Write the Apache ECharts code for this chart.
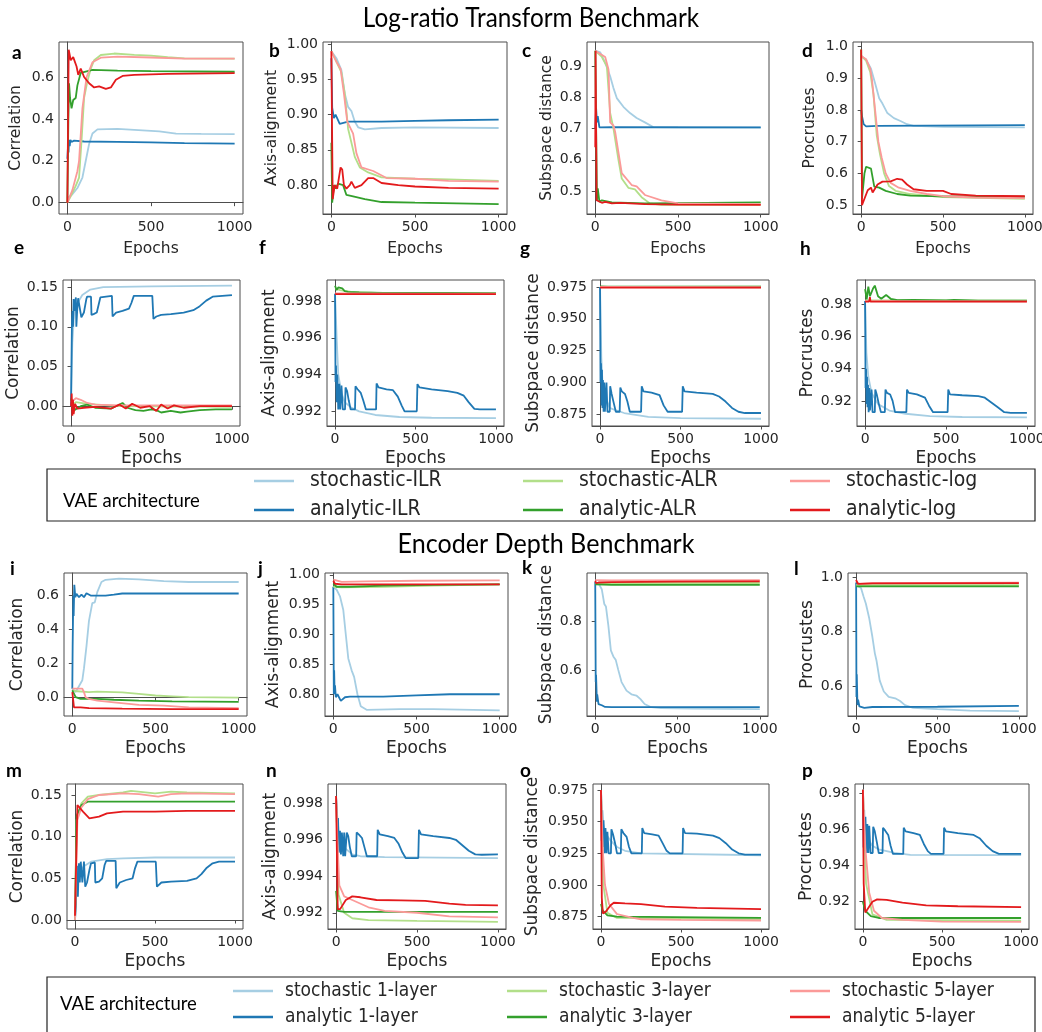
<!DOCTYPE html>
<html>
<head>
<meta charset="utf-8">
<script src="https://cdn.jsdelivr.net/npm/echarts@6/dist/echarts.min.js"></script>
<style>
  html, body { margin: 0; padding: 0; background: #fff; }
  #chart { width: 1042px; height: 1032px; }
</style>
</head>
<body>
<div id="chart"></div>
<script>
// ---------- shared axis ticks ----------
const xTicks = [0, 500, 1000];
const corrTicks = [0, 0.2, 0.4, 0.6];
const axisTicksWide = [0.80, 0.85, 0.90, 0.95, 1.00];
const subspTicksLR = [0.5, 0.6, 0.7, 0.8, 0.9];
const procTicksLR = [0.5, 0.6, 0.7, 0.8, 0.9, 1.0];
const corrTicksSmall = [0, 0.05, 0.10, 0.15];
const axisTicksFine = [0.992, 0.994, 0.996, 0.998];
const subspTicksFine = [0.875, 0.900, 0.925, 0.950, 0.975];
const procTicksFine = [0.92, 0.94, 0.96, 0.98];
const subspTicksDepth = [0.6, 0.8];
const procTicksDepth = [0.6, 0.8, 1.0];

const lrNames = ['stochastic-ILR', 'analytic-ILR', 'stochastic-ALR', 'analytic-ALR', 'stochastic-log', 'analytic-log'];
const depthNames = ['stochastic 1-layer', 'analytic 1-layer', 'stochastic 3-layer', 'analytic 3-layer', 'stochastic 5-layer', 'analytic 5-layer'];
const palette = ['#a6cee3', '#1f78b4', '#b2df8a', '#33a02c', '#fb9a99', '#e31a1c'];

// ---------- Log-ratio transform benchmark: [epoch, value] ----------
const a_sILR = [[0,0.02],[30,0.04],[60,0.07],[90,0.12],[110,0.2],[130,0.28],[150,0.33],[180,0.35],[300,0.352],[450,0.345],[550,0.34],[650,0.33],[800,0.328],[1000,0.327]];
const a_aILR = [[0,0.21],[4,0.27],[7,0.24],[10,0.3],[14,0.27],[18,0.3],[25,0.29],[40,0.296],[100,0.292],[300,0.29],[500,0.288],[700,0.284],[1000,0.282]];
const a_sALR = [[0,0.0],[20,0.03],[50,0.08],[70,0.12],[85,0.3],[100,0.5],[120,0.58],[140,0.64],[160,0.68],[200,0.705],[280,0.712],[400,0.706],[500,0.702],[600,0.695],[700,0.689],[1000,0.688]];
const a_aALR = [[0,0.0],[6,0.4],[10,0.57],[16,0.5],[25,0.45],[35,0.49],[50,0.5],[60,0.56],[80,0.62],[150,0.634],[300,0.63],[500,0.628],[1000,0.625]];
const a_sLog = [[0,0.0],[30,0.06],[60,0.15],[70,0.2],[90,0.45],[115,0.6],[150,0.67],[200,0.692],[300,0.697],[500,0.693],[700,0.688],[1000,0.688]];
const a_aLog = [[0,0.0],[8,0.73],[20,0.68],[35,0.695],[55,0.65],[65,0.61],[80,0.64],[100,0.6],[130,0.57],[160,0.55],[190,0.555],[230,0.543],[260,0.55],[290,0.587],[330,0.605],[400,0.61],[600,0.615],[1000,0.618]];

const b_sILR = [[0,0.99],[30,0.98],[60,0.963],[80,0.93],[100,0.911],[120,0.905],[140,0.89],[160,0.882],[200,0.879],[300,0.881],[500,0.882],[1000,0.881]];
const b_aILR = [[0,0.98],[5,0.91],[15,0.895],[25,0.9],[50,0.887],[100,0.89],[300,0.89],[500,0.891],[700,0.892],[1000,0.893]];
const b_sALR = [[0,0.99],[30,0.975],[60,0.96],[80,0.93],[100,0.88],[120,0.86],[140,0.84],[170,0.825],[220,0.818],[300,0.811],[500,0.809],[700,0.808],[1000,0.806]];
const b_aALR = [[0,0.86],[5,0.775],[15,0.8],[25,0.795],[40,0.802],[70,0.8],[90,0.786],[130,0.784],[200,0.78],[300,0.776],[500,0.775],[1000,0.773]];
const b_sLog = [[0,0.99],[30,0.975],[55,0.965],[75,0.93],[95,0.89],[130,0.873],[150,0.845],[180,0.825],[250,0.82],[330,0.81],[500,0.809],[700,0.806],[1000,0.805]];
const b_aLog = [[0,0.99],[8,0.78],[20,0.8],[35,0.795],[55,0.825],[65,0.822],[75,0.8],[90,0.795],[110,0.8],[120,0.805],[140,0.796],[180,0.8],[220,0.81],[250,0.81],[300,0.803],[400,0.8],[500,0.798],[700,0.796],[1000,0.795]];

const c_sILR = [[0,0.95],[30,0.945],[60,0.911],[90,0.868],[110,0.83],[130,0.798],[170,0.77],[210,0.75],[250,0.734],[300,0.72],[350,0.705],[500,0.704],[1000,0.703]];
const c_aILR = [[0,0.7],[5,0.766],[10,0.72],[15,0.74],[25,0.704],[100,0.705],[1000,0.704]];
const c_sALR = [[0,0.95],[40,0.93],[70,0.9],[90,0.75],[110,0.7],[140,0.6],[160,0.54],[200,0.51],[240,0.505],[280,0.48],[330,0.46],[400,0.455],[1000,0.456]];
const c_aALR = [[0,0.95],[10,0.47],[15,0.508],[25,0.465],[40,0.47],[100,0.463],[300,0.46],[500,0.461],[1000,0.463]];
const c_sLog = [[0,0.95],[60,0.93],[80,0.89],[90,0.72],[110,0.71],[120,0.69],[160,0.557],[220,0.519],[250,0.515],[300,0.487],[400,0.47],[500,0.46],[1000,0.458]];
const c_aLog = [[0,0.64],[2,0.95],[8,0.47],[20,0.465],[40,0.462],[60,0.465],[100,0.46],[150,0.462],[300,0.458],[500,0.456],[1000,0.455]];

const d_sILR = [[0,0.97],[30,0.958],[60,0.93],[85,0.884],[110,0.837],[130,0.82],[160,0.79],[200,0.774],[240,0.765],[280,0.755],[320,0.75],[500,0.747],[1000,0.745]];
const d_aILR = [[0,0.8],[5,0.78],[15,0.755],[30,0.748],[100,0.75],[1000,0.752]];
const d_sALR = [[0,0.97],[30,0.955],[55,0.92],[75,0.85],[95,0.72],[115,0.66],[140,0.6],[170,0.56],[210,0.545],[300,0.535],[400,0.53],[500,0.525],[1000,0.52]];
const d_aALR = [[0,0.99],[5,0.52],[20,0.6],[30,0.621],[60,0.615],[80,0.558],[110,0.555],[150,0.545],[220,0.535],[300,0.53],[500,0.528],[1000,0.527]];
const d_sLog = [[0,0.97],[30,0.96],[55,0.93],[65,0.9],[85,0.8],[105,0.7],[125,0.65],[150,0.6],[180,0.57],[230,0.555],[300,0.545],[400,0.535],[500,0.528],[700,0.524],[1000,0.522]];
const d_aLog = [[0,0.99],[5,0.5],[20,0.52],[40,0.547],[60,0.555],[70,0.54],[100,0.565],[130,0.574],[180,0.575],[220,0.583],[250,0.58],[280,0.565],[320,0.55],[400,0.545],[500,0.545],[550,0.535],[700,0.53],[1000,0.528]];

const e_sILR = [[0,0.01],[8,0.08],[20,0.12],[40,0.13],[70,0.14],[120,0.147],[200,0.15],[500,0.151],[1000,0.152]];
const e_aILR = [[0,0.0],[3,0.06],[6,0.11],[9,0.12],[12,0.1],[16,0.135],[20,0.12],[25,0.13],[30,0.137],[33,0.1],[38,0.12],[44,0.136],[55,0.137],[64,0.112],[70,0.113],[80,0.118],[95,0.135],[100,0.138],[124,0.138],[127,0.115],[140,0.116],[160,0.118],[172,0.12],[182,0.137],[190,0.139],[254,0.139],[258,0.113],[280,0.118],[320,0.12],[360,0.123],[375,0.13],[390,0.139],[505,0.139],[512,0.11],[530,0.113],[560,0.115],[620,0.116],[700,0.118],[760,0.121],[800,0.126],[840,0.133],[880,0.138],[1000,0.14]];
const e_sALR = [[0,0.0],[30,0.005],[100,0.003],[300,0.0],[1000,-0.001]];
const e_aALR = [[0,0.01],[20,-0.005],[60,0.0],[100,0.002],[150,-0.002],[250,-0.003],[320,0.004],[350,-0.002],[400,-0.005],[450,-0.006],[500,-0.004],[530,-0.005],[560,-0.008],[620,-0.006],[680,-0.008],[720,-0.007],[800,-0.005],[900,-0.004],[1000,-0.004]];
const e_sLog = [[0,0.005],[30,0.01],[60,0.008],[100,0.004],[150,0.002],[300,0.001],[1000,0.001]];
const e_aLog = [[0,0.0],[4,0.016],[8,-0.012],[12,0.008],[16,-0.01],[25,0.003],[40,-0.003],[80,-0.002],[150,-0.001],[250,-0.003],[300,0.002],[340,-0.003],[380,0.003],[430,-0.002],[490,0.0],[530,-0.006],[560,0.002],[600,-0.003],[640,0.001],[700,-0.002],[800,0.0],[1000,0.0]];

const f_sILR = [[0,0.9984],[10,0.996],[20,0.994],[40,0.993],[60,0.9925],[100,0.9922],[150,0.992],[250,0.9918],[400,0.99169],[600,0.99165],[1000,0.99163]];
const f_aILR = [[0,0.9984],[3,0.9936],[6,0.9945],[10,0.9925],[14,0.994],[20,0.9921],[26,0.9935],[32,0.9921],[40,0.9934],[48,0.9921],[62,0.9921],[65,0.9933],[75,0.9931],[85,0.9926],[97,0.9921],[124,0.9921],[127,0.99336],[140,0.9932],[160,0.993],[175,0.9926],[192,0.9921],[255,0.9921],[258,0.99352],[270,0.9933],[320,0.9932],[360,0.99315],[390,0.9928],[415,0.9923],[432,0.992],[508,0.992],[512,0.99348],[525,0.9933],[600,0.9932],[700,0.9931],[760,0.993],[800,0.99285],[830,0.9925],[866,0.99213],[900,0.9921],[1000,0.9921]];
const f_sALR = [[0,0.9987],[30,0.9986],[100,0.9985],[300,0.99843],[1000,0.9984]];
const f_aALR = [[0,0.99884],[10,0.9986],[20,0.99875],[45,0.99869],[60,0.99855],[80,0.9985],[150,0.99848],[300,0.99845],[700,0.99845],[1000,0.99843]];
const f_sLog = [[0,0.99842],[500,0.99841],[1000,0.9984]];
const f_aLog = [[0,0.99838],[500,0.99838],[1000,0.99838]];

const g_sILR = [[0,0.975],[8,0.92],[15,0.9],[30,0.89],[60,0.88],[100,0.878],[150,0.876],[250,0.874],[300,0.873],[500,0.872],[1000,0.8715]];
const g_aILR = [[0,0.975],[3,0.9],[6,0.915],[9,0.882],[12,0.91],[15,0.88],[18,0.902],[22,0.877],[26,0.9],[30,0.877],[40,0.9],[46,0.877],[60,0.877],[63,0.897],[72,0.891],[85,0.884],[98,0.877],[122,0.877],[126,0.896],[135,0.893],[155,0.891],[170,0.885],[185,0.877],[255,0.877],[259,0.897],[270,0.893],[320,0.892],[370,0.89],[395,0.882],[420,0.877],[510,0.877],[514,0.897],[525,0.893],[600,0.892],[700,0.891],[740,0.889],[780,0.885],[820,0.88],[860,0.877],[900,0.876],[1000,0.876]];
const g_sALR = [[0,0.975],[1000,0.9752]];
const g_aALR = [[0,0.9755],[50,0.9752],[1000,0.9752]];
const g_sLog = [[0,0.975],[1000,0.9748]];
const g_aLog = [[0,0.9745],[1000,0.9745]];

const h_sILR = [[0,0.982],[8,0.95],[20,0.935],[40,0.925],[80,0.918],[150,0.914],[250,0.912],[400,0.9105],[600,0.91],[1000,0.9098]];
const h_aILR = [[0,0.982],[3,0.928],[6,0.94],[9,0.918],[12,0.935],[15,0.916],[18,0.93],[22,0.913],[26,0.928],[30,0.914],[40,0.927],[46,0.913],[60,0.913],[63,0.927],[72,0.924],[85,0.918],[98,0.913],[122,0.913],[126,0.927],[135,0.925],[155,0.924],[170,0.92],[185,0.913],[255,0.913],[259,0.927],[270,0.925],[320,0.924],[370,0.922],[395,0.917],[420,0.913],[510,0.913],[514,0.927],[525,0.924],[600,0.9235],[700,0.923],[740,0.922],[780,0.919],[820,0.916],[860,0.913],[900,0.9125],[1000,0.9125]];
const h_sALR = [[0,0.9825],[1000,0.9822]];
const h_aALR = [[0,0.9895],[10,0.983],[20,0.991],[30,0.985],[50,0.99],[60,0.9916],[80,0.985],[100,0.9835],[130,0.9858],[160,0.9833],[200,0.9826],[300,0.9828],[500,0.9825],[550,0.9827],[700,0.9823],[1000,0.9822]];
const h_sLog = [[0,0.982],[1000,0.9818]];
const h_aLog = [[0,0.9817],[25,0.9817],[30,0.9845],[33,0.9817],[1000,0.9817]];

// ---------- Encoder depth benchmark ----------
const i_s1 = [[0,0.05],[20,0.03],[60,0.1],[70,0.17],[85,0.3],[100,0.45],[120,0.555],[135,0.56],[150,0.62],[175,0.68],[200,0.693],[280,0.7],[400,0.695],[550,0.685],[700,0.68],[1000,0.68]];
const i_a1 = [[0,0.05],[2,0.3],[6,0.6],[8,0.48],[12,0.663],[18,0.59],[25,0.61],[40,0.59],[55,0.605],[70,0.59],[85,0.614],[110,0.6],[200,0.6],[250,0.605],[300,0.612],[1000,0.612]];
const i_s3 = [[0,0.04],[30,0.035],[100,0.03],[150,0.033],[300,0.028],[400,0.02],[500,0.01],[600,0.005],[700,0.0],[1000,-0.003]];
const i_a3 = [[0,0.04],[20,0.0],[50,-0.01],[150,-0.01],[250,-0.015],[400,-0.02],[600,-0.025],[1000,-0.028]];
const i_s5 = [[0,0.05],[20,0.05],[60,0.05],[70,0.03],[80,0.0],[100,-0.01],[150,-0.02],[250,-0.03],[400,-0.045],[550,-0.05],[700,-0.06],[1000,-0.065]];
const i_a5 = [[0,0.03],[10,-0.06],[20,-0.05],[50,-0.06],[100,-0.065],[300,-0.068],[600,-0.07],[1000,-0.07]];

const j_s1 = [[0,0.98],[20,0.975],[40,0.964],[60,0.941],[75,0.9],[90,0.86],[110,0.84],[125,0.829],[145,0.8],[165,0.78],[200,0.774],[400,0.775],[600,0.775],[1000,0.773]];
const j_a1 = [[0,0.98],[3,0.8],[5,0.84],[8,0.8],[10,0.815],[15,0.795],[25,0.8],[45,0.789],[70,0.795],[100,0.796],[300,0.796],[500,0.798],[700,0.8],[1000,0.8]];
const j_s3 = [[0,0.98],[50,0.979],[300,0.98],[600,0.982],[1000,0.984]];
const j_a3 = [[0,0.985],[20,0.98],[100,0.98],[300,0.982],[600,0.983],[1000,0.984]];
const j_s5 = [[0,0.992],[50,0.988],[200,0.989],[500,0.99],[1000,0.9905]];
const j_a5 = [[0,0.99],[10,0.985],[50,0.984],[1000,0.984]];

const k_s1 = [[0,0.96],[20,0.955],[40,0.93],[55,0.87],[65,0.86],[80,0.78],[95,0.68],[110,0.655],[125,0.64],[140,0.6],[160,0.55],[190,0.515],[220,0.5],[250,0.495],[275,0.48],[300,0.46],[340,0.447],[400,0.443],[600,0.441],[1000,0.439]];
const k_a1 = [[0,0.96],[3,0.55],[5,0.58],[10,0.47],[12,0.5],[20,0.46],[40,0.455],[60,0.448],[100,0.447],[500,0.447],[1000,0.447]];
const k_s3 = [[0,0.955],[100,0.955],[1000,0.956]];
const k_a3 = [[0,0.95],[100,0.948],[1000,0.948]];
const k_s5 = [[0,0.968],[100,0.967],[1000,0.968]];
const k_a5 = [[0,0.965],[5,0.955],[20,0.958],[100,0.96],[500,0.962],[1000,0.963]];

const l_s1 = [[0,0.97],[30,0.96],[45,0.93],[60,0.902],[80,0.85],[100,0.78],[115,0.72],[125,0.694],[145,0.62],[170,0.58],[200,0.56],[240,0.555],[270,0.545],[300,0.53],[350,0.52],[500,0.515],[700,0.51],[1000,0.508]];
const l_a1 = [[0,0.98],[2,0.56],[4,0.643],[8,0.53],[12,0.55],[20,0.525],[50,0.52],[100,0.523],[500,0.524],[1000,0.527]];
const l_s3 = [[0,0.97],[1000,0.97]];
const l_a3 = [[0,0.966],[1000,0.966]];
const l_s5 = [[0,0.985],[20,0.975],[100,0.978],[1000,0.98]];
const l_a5 = [[0,0.99],[10,0.975],[20,0.98],[100,0.977],[1000,0.978]];

const m_s1 = [[0,0.0],[10,0.04],[30,0.06],[60,0.065],[100,0.07],[200,0.073],[300,0.074],[500,0.075],[1000,0.075]];
const m_a1 = [[0,0.0],[6,0.02],[12,0.065],[18,0.028],[24,0.068],[30,0.045],[36,0.07],[46,0.045],[56,0.07],[64,0.04],[75,0.045],[90,0.06],[100,0.068],[124,0.069],[127,0.045],[150,0.046],[170,0.05],[185,0.066],[195,0.071],[254,0.071],[258,0.038],[280,0.045],[320,0.048],[360,0.05],[375,0.062],[390,0.07],[505,0.07],[512,0.04],[540,0.045],[600,0.046],[700,0.047],[760,0.05],[790,0.055],[820,0.062],[860,0.068],[900,0.07],[1000,0.07]];
const m_s3 = [[0,0.0],[10,0.12],[40,0.14],[80,0.148],[150,0.15],[300,0.153],[350,0.155],[500,0.152],[600,0.154],[700,0.153],[1000,0.152]];
const m_a3 = [[0,0.0],[10,0.125],[40,0.138],[80,0.142],[1000,0.142]];
const m_s5 = [[0,0.0],[15,0.12],[40,0.135],[80,0.145],[150,0.15],[300,0.152],[400,0.151],[520,0.148],[600,0.151],[700,0.152],[1000,0.151]];
const m_a5 = [[0,0.005],[15,0.138],[50,0.13],[90,0.122],[150,0.124],[200,0.128],[300,0.13],[500,0.13],[700,0.131],[1000,0.131]];

const n_s1 = [[0,0.9984],[5,0.9975],[15,0.9965],[30,0.996],[60,0.9955],[100,0.9952],[150,0.9951],[300,0.99505],[1000,0.995]];
const n_a1 = [[0,0.9983],[4,0.9974],[8,0.9955],[12,0.9972],[17,0.9953],[24,0.9965],[30,0.9952],[36,0.9964],[44,0.9951],[50,0.9964],[56,0.9951],[64,0.9951],[66,0.9964],[75,0.9962],[85,0.9956],[97,0.9951],[124,0.9951],[127,0.9964],[140,0.9963],[160,0.9961],[175,0.9956],[190,0.9951],[254,0.9951],[257,0.99655],[270,0.9963],[320,0.9962],[360,0.9961],[385,0.9958],[410,0.9953],[430,0.995],[508,0.995],[512,0.99655],[525,0.9963],[600,0.9962],[700,0.9961],[740,0.996],[780,0.9957],[820,0.9954],[860,0.9952],[900,0.99518],[1000,0.9952]];
const n_s3 = [[0,0.9984],[15,0.993],[50,0.992],[100,0.9917],[200,0.9916],[500,0.99155],[1000,0.9915]];
const n_a3 = [[0,0.9932],[10,0.9921],[50,0.99205],[1000,0.99205]];
const n_s5 = [[0,0.9984],[8,0.996],[20,0.9935],[50,0.9929],[100,0.9927],[200,0.9923],[300,0.9921],[500,0.992],[700,0.9918],[1000,0.99175]];
const n_a5 = [[0,0.9984],[10,0.9922],[25,0.9922],[60,0.9927],[100,0.9929],[150,0.99285],[250,0.9927],[400,0.99268],[550,0.99265],[700,0.9925],[800,0.99243],[1000,0.9924]];

const o_s1 = [[0,0.975],[10,0.95],[30,0.94],[60,0.935],[100,0.93],[150,0.927],[250,0.925],[1000,0.9235]];
const o_a1 = [[0,0.975],[4,0.935],[8,0.959],[12,0.93],[16,0.951],[22,0.925],[28,0.945],[34,0.925],[40,0.942],[48,0.925],[62,0.925],[65,0.944],[75,0.94],[88,0.933],[100,0.925],[124,0.925],[127,0.944],[140,0.941],[160,0.938],[175,0.93],[190,0.925],[255,0.925],[258,0.945],[270,0.941],[320,0.94],[360,0.939],[385,0.933],[410,0.927],[430,0.925],[510,0.925],[513,0.945],[525,0.941],[600,0.9405],[700,0.939],[740,0.937],[780,0.933],[820,0.928],[860,0.925],[900,0.924],[1000,0.924]];
const o_s3 = [[0,0.975],[15,0.9],[40,0.878],[100,0.874],[1000,0.873]];
const o_a3 = [[0,0.885],[10,0.88],[40,0.876],[100,0.875],[1000,0.874]];
const o_s5 = [[0,0.975],[10,0.93],[25,0.9],[50,0.885],[100,0.877],[200,0.874],[250,0.873],[500,0.8725],[1000,0.872]];
const o_a5 = [[0,0.975],[5,0.89],[12,0.8776],[30,0.879],[60,0.884],[80,0.886],[150,0.8855],[250,0.885],[400,0.883],[600,0.882],[1000,0.881]];

const p_s1 = [[0,0.982],[10,0.96],[30,0.955],[60,0.951],[100,0.949],[200,0.947],[300,0.946],[1000,0.9458]];
const p_a1 = [[0,0.982],[4,0.95],[8,0.971],[12,0.948],[16,0.967],[22,0.947],[28,0.963],[34,0.947],[40,0.962],[48,0.947],[62,0.947],[65,0.9615],[75,0.959],[88,0.953],[100,0.947],[124,0.947],[127,0.961],[140,0.9595],[160,0.957],[175,0.951],[190,0.9465],[255,0.9465],[258,0.961],[270,0.959],[320,0.958],[360,0.957],[385,0.952],[410,0.948],[430,0.9465],[510,0.9465],[513,0.961],[525,0.959],[600,0.958],[700,0.957],[740,0.955],[780,0.951],[820,0.948],[860,0.9465],[1000,0.9465]];
const p_s3 = [[0,0.982],[20,0.93],[60,0.913],[150,0.91],[1000,0.9095]];
const p_a3 = [[0,0.92],[15,0.915],[50,0.912],[100,0.911],[1000,0.911]];
const p_s5 = [[0,0.982],[15,0.95],[40,0.925],[70,0.915],[120,0.911],[250,0.91],[500,0.909],[1000,0.9088]];
const p_a5 = [[0,0.982],[5,0.93],[15,0.914],[30,0.916],[60,0.92],[90,0.9213],[150,0.921],[250,0.9195],[400,0.918],[600,0.9175],[1000,0.917]];

// ---------- panel definitions (metric, y-range, ticks, lines) ----------
const panels = [
  { id: 'a', metric: 'Correlation',       y: [-0.054, 0.767],   ticks: corrTicks,       dec: 1, names: lrNames, lines: [a_sILR, a_aILR, a_sALR, a_aALR, a_sLog, a_aLog] },
  { id: 'b', metric: 'Axis-alignment',    y: [0.759, 1.003],    ticks: axisTicksWide,   dec: 2, names: lrNames, lines: [b_sILR, b_aILR, b_sALR, b_aALR, b_sLog, b_aLog] },
  { id: 'c', metric: 'Subspace distance', y: [0.426, 0.978],    ticks: subspTicksLR,    dec: 1, names: lrNames, lines: [c_sILR, c_aILR, c_sALR, c_aALR, c_sLog, c_aLog] },
  { id: 'd', metric: 'Procrustes',        y: [0.472, 1.014],    ticks: procTicksLR,     dec: 1, names: lrNames, lines: [d_sILR, d_aILR, d_sALR, d_aALR, d_sLog, d_aLog] },
  { id: 'e', metric: 'Correlation',       y: [-0.025, 0.159],   ticks: corrTicksSmall,  dec: 2, names: lrNames, lines: [e_sILR, e_aILR, e_sALR, e_aALR, e_sLog, e_aLog] },
  { id: 'f', metric: 'Axis-alignment',    y: [0.9912, 0.99915], ticks: axisTicksFine,   dec: 3, names: lrNames, lines: [f_sILR, f_aILR, f_sALR, f_aALR, f_sLog, f_aLog] },
  { id: 'g', metric: 'Subspace distance', y: [0.8658, 0.9805],  ticks: subspTicksFine,  dec: 3, names: lrNames, lines: [g_sILR, g_aILR, g_sALR, g_aALR, g_sLog, g_aLog] },
  { id: 'h', metric: 'Procrustes',        y: [0.9044, 0.9951],  ticks: procTicksFine,   dec: 2, names: lrNames, lines: [h_sILR, h_aILR, h_sALR, h_aALR, h_sLog, h_aLog] },
  { id: 'i', metric: 'Correlation',       y: [-0.111, 0.733],   ticks: corrTicks,       dec: 1, names: depthNames, lines: [i_s1, i_a1, i_s3, i_a3, i_s5, i_a5] },
  { id: 'j', metric: 'Axis-alignment',    y: [0.7636, 1.003],   ticks: axisTicksWide,   dec: 2, names: depthNames, lines: [j_s1, j_a1, j_s3, j_a3, j_s5, j_a5] },
  { id: 'k', metric: 'Subspace distance', y: [0.411, 0.997],    ticks: subspTicksDepth, dec: 1, names: depthNames, lines: [k_s1, k_a1, k_s3, k_a3, k_s5, k_a5] },
  { id: 'l', metric: 'Procrustes',        y: [0.49, 1.015],     ticks: procTicksDepth,  dec: 1, names: depthNames, lines: [l_s1, l_a1, l_s3, l_a3, l_s5, l_a5] },
  { id: 'm', metric: 'Correlation',       y: [-0.0108, 0.1632], ticks: corrTicksSmall,  dec: 2, names: depthNames, lines: [m_s1, m_a1, m_s3, m_a3, m_s5, m_a5] },
  { id: 'n', metric: 'Axis-alignment',    y: [0.99111, 0.99906],ticks: axisTicksFine,   dec: 3, names: depthNames, lines: [n_s1, n_a1, n_s3, n_a3, n_s5, n_a5] },
  { id: 'o', metric: 'Subspace distance', y: [0.8653, 0.9797],  ticks: subspTicksFine,  dec: 3, names: depthNames, lines: [o_s1, o_a1, o_s3, o_a3, o_s5, o_a5] },
  { id: 'p', metric: 'Procrustes',        y: [0.9049, 0.9852],  ticks: procTicksFine,   dec: 2, names: depthNames, lines: [p_s1, p_a1, p_s3, p_a3, p_s5, p_a5] }
];

// ---------- layout: plot boxes, label gaps, panel letter spots ----------
const boxes = {
  a: [59, 42, 184, 172],  b: [323, 42, 184, 172], c: [587, 42, 182, 172], d: [853, 42, 180, 172],
  e: [63, 280, 177, 146], f: [327, 280, 177, 146], g: [592, 280, 177, 146], h: [857, 280, 178, 146],
  i: [64, 573, 183, 143], j: [325, 573, 183, 143], k: [587, 573, 181, 143], l: [848, 573, 179, 143],
  m: [67, 784, 176, 145], n: [328, 784, 178, 145], o: [593, 784, 176, 145], p: [855, 784, 174, 145]
};
const yNameCenter = { a: 44, b: 52, c: 41, d: 44, e: 50, f: 58, g: 59, h: 50, i: 47, j: 52, k: 41, l: 41, m: 50, n: 55, o: 61, p: 48 };
const letterPos = {
  a: [12, 53], b: [269, 51], c: [522, 51], d: [802, 51],
  e: [14, 248], f: [259, 248], g: [520, 249], h: [800, 249],
  i: [10, 569], j: [258, 569], k: [522, 568], l: [794, 569],
  m: [6, 771], n: [266, 771], o: [520, 771], p: [802, 771]
};

const TEXT = '#262626';
const FRAME = '#4d4d4d';
const grids = [], xAxes = [], yAxes = [], series = [];

panels.forEach((p, idx) => {
  const [l, t, w, h] = boxes[p.id];
  const firstRow = idx < 4;
  const tickFont = 14;
  const nameFont = firstRow ? 15.5 : 17;
  grids.push({ left: l, top: t, width: w, height: h, show: true, borderColor: FRAME, borderWidth: 1,
               backgroundColor: 'transparent', containLabel: false, outerBoundsMode: 'none' });
  xAxes.push({
    type: 'value', gridIndex: idx, min: -50, max: 1050,
    name: 'Epochs', nameLocation: 'middle', nameGap: firstRow ? 27 : 24,
    nameTextStyle: { fontFamily: 'DejaVu Sans', fontSize: nameFont, color: TEXT },
    axisLine: { show: true, lineStyle: { color: FRAME, width: 1 } },
    axisTick: { show: true, length: 3.5, customValues: xTicks, lineStyle: { color: FRAME } },
    axisLabel: { customValues: xTicks, margin: 6, fontFamily: 'DejaVu Sans', fontSize: tickFont, color: TEXT,
                 formatter: v => String(v) },
    splitLine: { show: false }
  });
  yAxes.push({
    type: 'value', gridIndex: idx, min: p.y[0], max: p.y[1], scale: true,
    name: p.metric, nameLocation: 'middle', nameRotate: 90,
    nameGap: yNameCenter[p.id] - nameFont * 0.55,
    nameTextStyle: { fontFamily: 'DejaVu Sans', fontSize: nameFont, color: TEXT },
    axisLine: { show: true, lineStyle: { color: FRAME, width: 1 } },
    axisTick: { show: true, length: 3.5, customValues: p.ticks, lineStyle: { color: FRAME } },
    axisLabel: { customValues: p.ticks, margin: 5, fontFamily: 'DejaVu Sans', fontSize: tickFont, color: TEXT,
                 formatter: v => Number(v).toFixed(p.dec) },
    splitLine: { show: false }
  });
  p.lines.forEach((pts, k) => {
    series.push({
      type: 'line', name: p.names[k], xAxisIndex: idx, yAxisIndex: idx,
      data: pts, symbol: 'none', showSymbol: false, clip: true,
      lineStyle: { color: palette[k], width: 1.8 }, itemStyle: { color: palette[k] },
      z: 2 + k, silent: true
    });
  });
});

// ---------- legends ----------
function legendColumn(left, top, names, gap, size, pad) {
  return {
    orient: 'vertical', left: left, top: top, padding: 0, itemGap: gap,
    icon: 'rect', itemWidth: 40, itemHeight: 2.5,
    textStyle: { fontFamily: '"DejaVu Sans Condensed", "DejaVu Sans", sans-serif', fontSize: size, color: TEXT,
                 lineHeight: size + 1, padding: [0, 0, 0, pad] },
    data: names
  };
}
const legends = [
  legendColumn(254, 470, [lrNames[0], lrNames[1]], 7, 21, 11),
  legendColumn(523, 470, [lrNames[2], lrNames[3]], 7, 21, 11),
  legendColumn(790, 470, [lrNames[4], lrNames[5]], 7, 21, 11),
  legendColumn(233, 981, [depthNames[0], depthNames[1]], 6, 19, 7),
  legendColumn(507, 981, [depthNames[2], depthNames[3]], 6, 19, 7),
  legendColumn(790, 981, [depthNames[4], depthNames[5]], 6, 19, 7)
];

// ---------- titles, letters, legend frames ----------
const graphics = [
  { type: 'text', x: 531, y: 18, scaleX: 0.9, style: { text: 'Log-ratio Transform Benchmark', fontFamily: 'Lato', fontSize: 27, fill: '#000', align: 'center', verticalAlign: 'middle' } },
  { type: 'text', x: 546, y: 544, scaleX: 0.93, style: { text: 'Encoder Depth Benchmark', fontFamily: 'Lato', fontSize: 27, fill: '#000', align: 'center', verticalAlign: 'middle' } },
  { type: 'rect', shape: { x: 47, y: 469, width: 988, height: 52 }, style: { fill: 'none', stroke: '#222', lineWidth: 1.2 } },
  { type: 'rect', shape: { x: 47, y: 977, width: 988, height: 70 }, style: { fill: 'none', stroke: '#222', lineWidth: 1.2 } },
  { type: 'text', x: 63, y: 501, style: { text: 'VAE architecture', fontFamily: 'Lato', fontSize: 18.5, fill: '#000', verticalAlign: 'middle' } },
  { type: 'text', x: 60, y: 1004, style: { text: 'VAE architecture', fontFamily: 'Lato', fontSize: 18.5, fill: '#000', verticalAlign: 'middle' } }
];
panels.forEach(p => {
  const [x, y] = letterPos[p.id];
  graphics.push({ type: 'text', x: x, y: y, style: { text: p.id, fontFamily: 'Lato', fontWeight: 'bold', fontSize: 19, fill: '#000', verticalAlign: 'middle' } });
});

const chart = echarts.init(document.getElementById('chart'), null, { renderer: 'canvas' });
chart.setOption({
  animation: false,
  backgroundColor: '#fff',
  grid: grids,
  xAxis: xAxes,
  yAxis: yAxes,
  legend: legends,
  series: series,
  graphic: graphics
});
</script>
</body>
</html>
